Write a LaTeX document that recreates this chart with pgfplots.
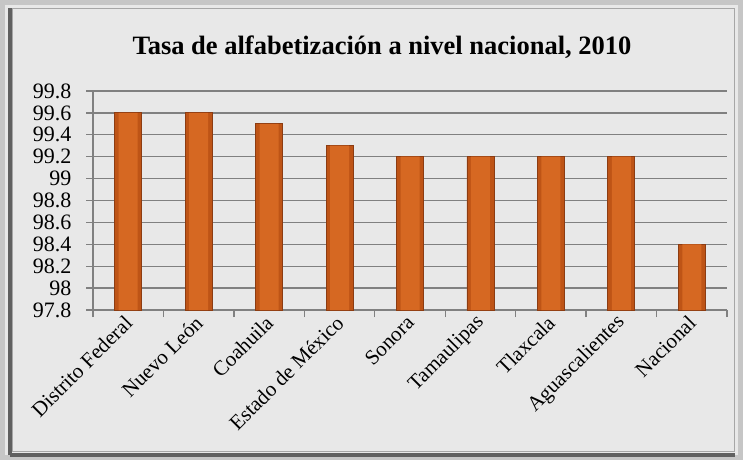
\documentclass[border=0pt]{standalone}
\usepackage{fontspec}
\setmainfont{Liberation Serif}
\usepackage{pgfplots}
\pgfplotsset{compat=1.18}
\definecolor{barmid}{RGB}{214,104,34}
\definecolor{baredge}{RGB}{190,84,22}
\definecolor{barline}{RGB}{140,60,18}
\definecolor{gridgray}{RGB}{128,128,128}
\definecolor{marble}{RGB}{232,232,232}

\begin{document}
\begin{tikzpicture}[x=1pt,y=1pt]
% marble-ish frame
\fill[marble] (0,0) rectangle (743,460);
\draw[line width=5pt, gray!45] (2.5,2.5) rectangle (740.5,457.5);
\draw[line width=4pt, gray!75!black] (10,5) -- (10,452) (10,5) -- (735,5);
\draw[line width=1pt, gray!70] (12,9) rectangle (734,451);
\node[font=\fontsize{26.5}{28}\selectfont\bfseries] at (382,413) {Tasa de alfabetización a nivel nacional, 2010};
\begin{axis}[
at={(93pt,150pt)}, anchor=south west,
scale only axis,
width=634pt, height=219pt,
xmin=-0.5, xmax=8.5,
ymin=97.8, ymax=99.8,
ytick={97.8,98,...,99.8},
xtick={0,...,8},
xticklabels={Distrito Federal,Nuevo León,Coahuila,Estado de México,Sonora,Tamaulipas,Tlaxcala,Aguascalientes,Nacional},
minor xtick={-0.5,0.5,...,8.5},
major x tick style={draw=none},
tick align=outside,
major tick length=7pt,
minor tick length=7pt,
axis x line*=bottom,
axis y line*=left,
axis line style={draw=gridgray, line width=1.3pt},
tick style={draw=gridgray, line width=1.3pt},
ymajorgrids,
grid style={draw=gridgray, line width=1.3pt},
/pgf/number format/assume math mode=true,
/pgf/number format/precision=1,
yticklabel style={font=\fontsize{22}{22}\selectfont, xshift=-11pt},
xticklabel style={font=\fontsize{21}{22}\selectfont, rotate=45, anchor=east, xshift=2pt, yshift=-2pt},
ybar, bar width=27pt, bar shift=0pt,
]
\addplot[draw=barline, line width=0.8pt, fill=baredge]
coordinates {(0,99.6) (1,99.6) (2,99.5) (3,99.3) (4,99.2) (5,99.2) (6,99.2) (7,99.2) (8,98.4)};
\addplot[draw=none, fill=barmid, bar width=19pt]
coordinates {(0,99.6) (1,99.6) (2,99.5) (3,99.3) (4,99.2) (5,99.2) (6,99.2) (7,99.2) (8,98.4)};
\end{axis}
\end{tikzpicture}
\end{document}
